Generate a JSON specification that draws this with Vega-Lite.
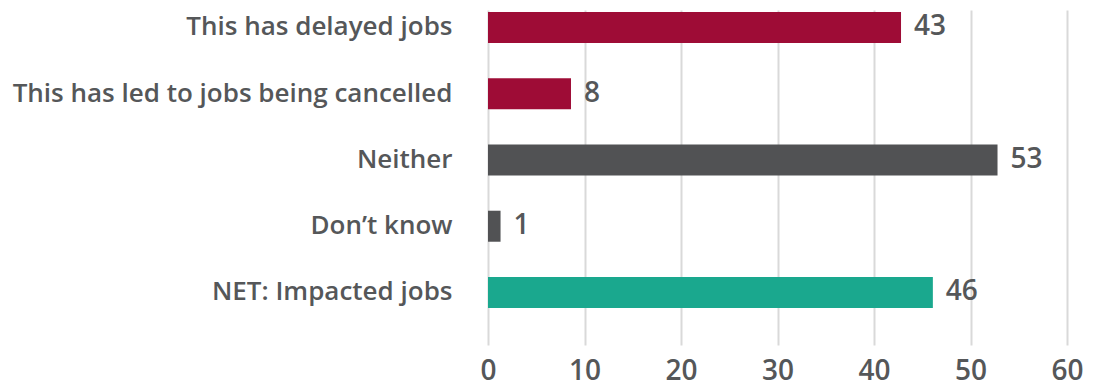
{
  "$schema": "https://vega.github.io/schema/vega-lite/v6.json",
  "width": 579,
  "height": 335,
  "autosize": {"type": "none"},
  "padding": {"left": 488, "top": 10, "right": 28, "bottom": 44},
  "background": "white",
  "config": {"view": {"stroke": null}, "font": "Open Sans"},
  "data": {
    "values": [
      {"category": "This has delayed jobs", "value": 42.8, "label": "43", "group": "impact"},
      {"category": "This has led to jobs being cancelled", "value": 8.6, "label": "8", "group": "impact"},
      {"category": "Neither", "value": 52.8, "label": "53", "group": "other"},
      {"category": "Don’t know", "value": 1.3, "label": "1", "group": "other"},
      {"category": "NET: Impacted jobs", "value": 46.1, "label": "46", "group": "net"}
    ]
  },
  "encoding": {
    "y": {
      "field": "category", "type": "nominal", "sort": null,
      "scale": {"paddingInner": 0.532, "paddingOuter": 0.294, "align": 0.05},
      "axis": {"title": null, "ticks": false, "domain": false, "labelPadding": 36, "labelFontSize": 26, "labelColor": "#555759", "labelFont": "Open Sans", "labelFontWeight": 600, "labelLimit": 500}
    }
  },
  "layer": [
    {
      "mark": {"type": "bar"},
      "encoding": {
        "x": {
          "field": "value", "type": "quantitative",
          "scale": {"domain": [0, 60], "nice": false},
          "axis": {"title": null, "values": [0, 10, 20, 30, 40, 50, 60], "ticks": false, "domain": false, "grid": true, "gridColor": "#d9d9d9", "gridWidth": 2, "labelFontSize": 28, "labelColor": "#555759", "labelFont": "Open Sans", "labelFontWeight": 600, "labelPadding": 12, "labelFlush": false}
        },
        "color": {
          "field": "group", "type": "nominal", "legend": null,
          "scale": {"domain": ["impact", "other", "net"], "range": ["#9e0c36", "#515254", "#1aa88e"]}
        }
      }
    },
    {
      "mark": {"type": "text", "align": "left", "baseline": "middle", "dx": 13, "fontSize": 28, "fontWeight": 600, "color": "#555759", "font": "Open Sans"},
      "encoding": {
        "x": {"field": "value", "type": "quantitative"},
        "text": {"field": "label"}
      }
    }
  ]
}
